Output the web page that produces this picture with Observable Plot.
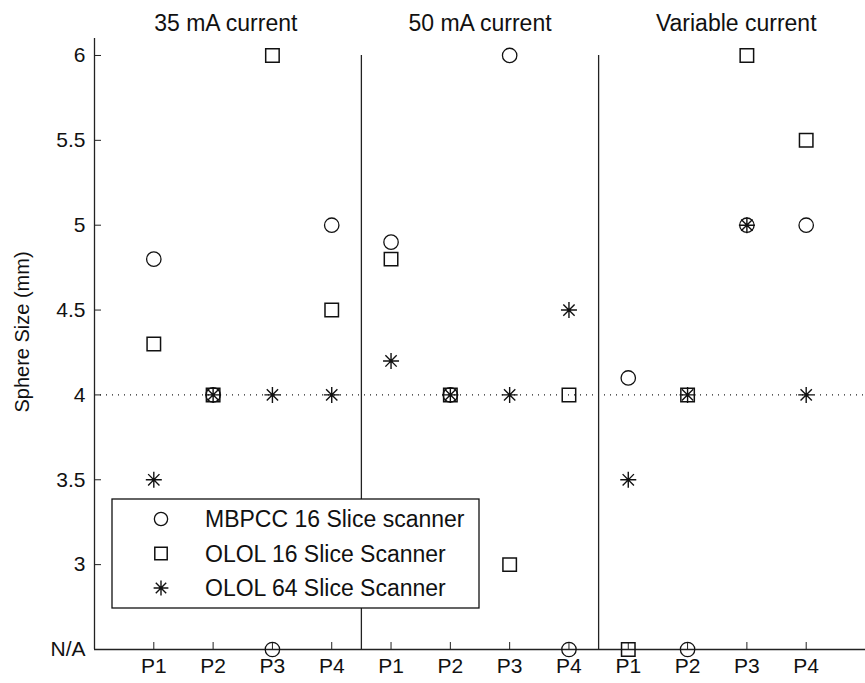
<!DOCTYPE html>
<html>
<head>
<meta charset="utf-8">
<script src="https://cdn.jsdelivr.net/npm/d3@7"></script>
<script src="https://cdn.jsdelivr.net/npm/@observablehq/plot@0.6"></script>
<style>
  body { margin: 0; background: #fff; }
  #chart { position: relative; width: 865px; height: 683px; }
</style>
</head>
<body>
<div id="chart"></div>
<script>
// Measured sphere sizes per phantom, for three tube-current settings.
const groups = ["35 mA current", "50 mA current", "Variable current"];
const phantoms = ["P1", "P2", "P3", "P4"];
const seriesNames = ["MBPCC 16 Slice scanner", "OLOL 16 Slice Scanner", "OLOL 64 Slice Scanner"];

// 12 values each: P1..P4 for 35 mA, 50 mA, variable current. null = N/A.
const mbpcc16 = [4.8, 4, null, 5,   4.9, 4, 6, null,   4.1, null, 5, 5];
const olol16  = [4.3, 4, 6, 4.5,    4.8, 4, 3, 4,      null, 4, 6, 5.5];
const olol64  = [3.5, 4, 4, 4,      4.2, 4, 4, 4.5,    3.5, 4, 5, 4];

const trueSize = 4;                     // actual sphere diameter (dotted reference)
const naLevel = 2.5;                    // axis level used for N/A
const yTicks = [2.5, 3, 3.5, 4, 4.5, 5, 5.5, 6];
const yTickLabels = ["N/A", "3", "3.5", "4", "4.5", "5", "5.5", "6"];

// Eight-armed asterisk marker
const asterisk8 = {
  draw(ctx, size) {
    const r = Math.sqrt(size / Math.PI);
    const d = r * Math.SQRT1_2;
    ctx.moveTo(-r, 0); ctx.lineTo(r, 0);
    ctx.moveTo(0, -r); ctx.lineTo(0, r);
    ctx.moveTo(-d, -d); ctx.lineTo(d, d);
    ctx.moveTo(-d, d); ctx.lineTo(d, -d);
  }
};

const seriesValues = [mbpcc16, olol16, olol64];
const markerStyles = [
  {symbol: "circle", r: 7.2, strokeWidth: 1.3},
  {symbol: "square", r: 7.6, strokeWidth: 1.5},
  {symbol: asterisk8, r: 8, strokeWidth: 1.4}
];

const nPer = phantoms.length;
const positions = d3.range(1, groups.length * nPer + 1);
const rows = seriesValues.map((vals, s) => vals.map((v, i) => ({
  series: seriesNames[s],
  pos: i + 1,
  value: v == null ? naLevel : v
})));
const dividers = d3.range(1, groups.length).map(g => g * nPer + 0.5);
const groupCenters = groups.map((g, k) => k * nPer + (nPer + 1) / 2);
const titleShift = [-17, 0, 19];
const font = "'Liberation Sans', Arial, sans-serif";

const plot = Plot.plot({
  width: 865,
  height: 683,
  marginLeft: 94,
  marginRight: 0,
  marginTop: 38,
  marginBottom: 34,
  style: {fontFamily: font, fontSize: "21px", color: "#111", background: "#fff", overflow: "visible"},
  x: {domain: [0, nPer * groups.length + 1]},
  y: {domain: [naLevel, 6.1]},
  marks: [
    Plot.ruleY([trueSize], {stroke: "#222", strokeDasharray: "1,5", strokeWidth: 1.2}),
    Plot.ruleX(dividers, {y1: naLevel, y2: 6, stroke: "#222", strokeWidth: 1.3}),
    Plot.axisX(positions, {
      tickSize: -7, tickPadding: 16, fontSize: 21, label: null, stroke: "#222",
      tickFormat: d => phantoms[(d - 1) % nPer]
    }),
    Plot.axisY(yTicks, {
      tickSize: -7, tickPadding: 16, fontSize: 21, label: null, stroke: "#222",
      tickFormat: d => yTickLabels[yTicks.indexOf(d)]
    }),
    Plot.ruleX([0], {stroke: "#222", strokeWidth: 1.3}),
    Plot.ruleY([naLevel], {stroke: "#222", strokeWidth: 1.3}),
    ...rows.map((data, s) => Plot.dot(data, {
      x: "pos", y: "value",
      symbol: markerStyles[s].symbol, r: markerStyles[s].r,
      stroke: "#111", strokeWidth: markerStyles[s].strokeWidth, fill: "none"
    })),
    // Panel titles above each current setting
    ...groups.map((g, i) => Plot.text([g], {
      x: () => groupCenters[i], frameAnchor: "top", lineAnchor: "middle",
      textAnchor: "middle", dx: titleShift[i], dy: -15, fontSize: 23, fill: "#111"
    })),
    Plot.text(["Sphere Size (mm)"], {
      frameAnchor: "left", textAnchor: "middle", lineAnchor: "middle",
      rotate: -90, dx: -72, dy: -12, fontSize: 20, fill: "#111"
    })
  ]
});

// Legend box drawn over the lower-left of the plot
const svg = d3.select(plot);
const lg = svg.append("g").attr("transform", "translate(112,499)");
lg.append("rect").attr("width", 367).attr("height", 109)
  .attr("fill", "#fff").attr("stroke", "#111").attr("stroke-width", 1.3);
seriesNames.forEach((name, s) => {
  const y = 20 + s * 34.5;
  const st = markerStyles[s];
  const type = typeof st.symbol === "string"
    ? (st.symbol === "circle" ? d3.symbolCircle : d3.symbolSquare)
    : st.symbol;
  lg.append("path")
    .attr("d", d3.symbol(type, Math.PI * st.r * st.r * 0.85)())
    .attr("transform", `translate(49,${y})`)
    .attr("fill", "none").attr("stroke", "#111").attr("stroke-width", st.strokeWidth);
  lg.append("text").attr("x", 93).attr("y", y).attr("dy", "0.35em")
    .attr("text-anchor", "start")
    .attr("font-family", font).attr("font-size", 23).attr("fill", "#111")
    .text(name);
});

document.getElementById("chart").append(plot);
</script>
</body>
</html>
